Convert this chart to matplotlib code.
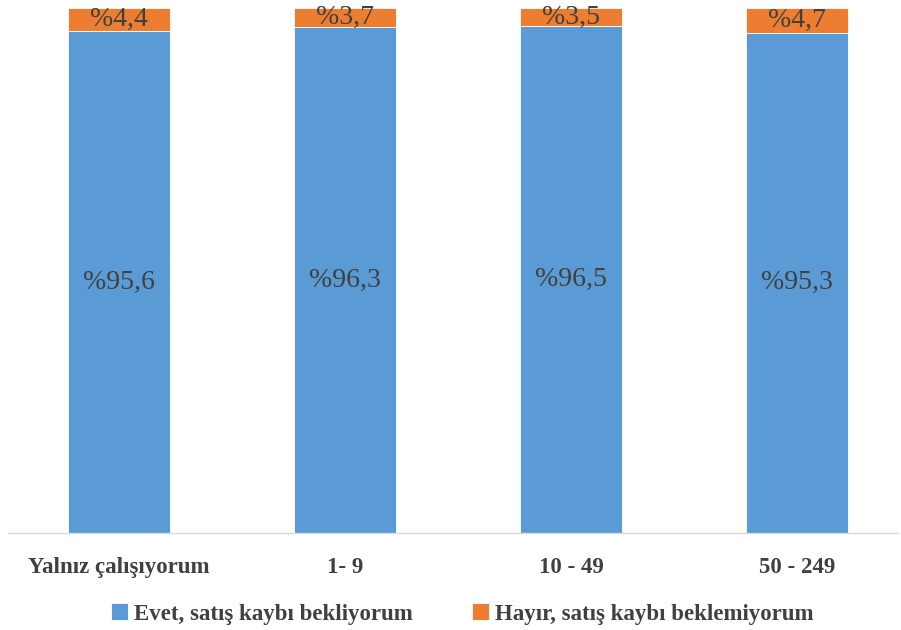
import matplotlib
matplotlib.use("Agg")
import matplotlib.pyplot as plt

categories = ["Yalnız çalışıyorum", "1- 9", "10 - 49", "50 - 249"]
evet = [95.6, 96.3, 96.5, 95.3]
hayir = [4.4, 3.7, 3.5, 4.7]
series_names = ["Evet, satış kaybı bekliyorum", "Hayır, satış kaybı beklemiyorum"]

plt.rcParams['font.family'] = ['Liberation Serif', 'DejaVu Serif']

blue = "#5B9BD5"
orange = "#ED7D31"
txt = "#404040"

fig = plt.figure(figsize=(9.01, 6.30), dpi=100)
ax = fig.add_axes([8/901, 1 - 533/630, 890/901, 525/630])

x = list(range(len(categories)))
w = 0.45
b1 = ax.bar(x, evet, width=w, color=blue, edgecolor="white", linewidth=0.6, label=series_names[0])
b2 = ax.bar(x, hayir, width=w, bottom=evet, color=orange, edgecolor="white", linewidth=0.6, label=series_names[1])

for xi, e, h in zip(x, evet, hayir):
    ax.text(xi, e / 2, "%" + f"{e:.1f}".replace(".", ","), ha="center", va="center",
            fontsize=20, color=txt)
    ax.text(xi, e + h / 2, "%" + f"{h:.1f}".replace(".", ","), ha="center", va="center",
            fontsize=20, color=txt)

ax.set_xlim((8 - 119) / 226, (8 - 119) / 226 + 890 / 226)
ax.set_ylim(0, 100)
ax.set_xticks(x)
ax.set_xticklabels(categories, fontsize=16.5, fontweight="bold", color=txt)
ax.tick_params(axis="x", length=0, pad=17)
ax.set_yticks([])
for s in ["top", "right", "left"]:
    ax.spines[s].set_visible(False)
ax.spines["bottom"].set_color("#D9D9D9")
ax.spines["bottom"].set_linewidth(1.0)

leg = fig.legend(handles=[b1, b2], labels=series_names, loc="center",
                 bbox_to_anchor=(0.513, 1 - 614/630), ncol=2, frameon=False,
                 prop={"size": 16.5, "weight": "bold"}, handlelength=0.75, handleheight=0.75,
                 handletextpad=0.25, columnspacing=2.6)
for t in leg.get_texts():
    t.set_color(txt)

fig.savefig("out.png", dpi=100)
